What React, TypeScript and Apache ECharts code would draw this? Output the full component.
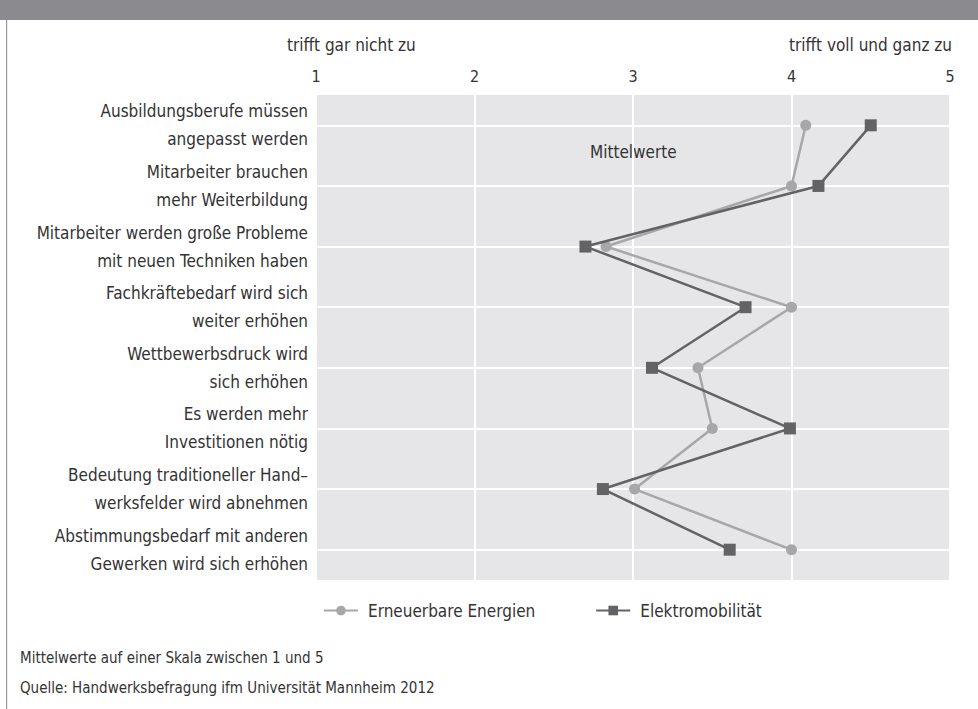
import React, { useEffect, useRef } from "react";
import * as echarts from "echarts";

const categories = [
  "Ausbildungsberufe müssen\nangepasst werden",
  "Mitarbeiter brauchen\nmehr Weiterbildung",
  "Mitarbeiter werden große Probleme\nmit neuen Techniken haben",
  "Fachkräftebedarf wird sich\nweiter erhöhen",
  "Wettbewerbsdruck wird\nsich erhöhen",
  "Es werden mehr\nInvestitionen nötig",
  "Bedeutung traditioneller Hand–\nwerksfelder wird abnehmen",
  "Abstimmungsbedarf mit anderen\nGewerken wird sich erhöhen",
];
const erneuerbare = [4.09, 4.0, 2.83, 4.0, 3.41, 3.5, 3.01, 4.0];
const elektro = [4.5, 4.17, 2.7, 3.71, 3.12, 3.99, 2.81, 3.61];
const seriesNames = ["Erneuerbare Energien", "Elektromobilität"];
const scaleMin = 1;
const scaleMax = 5;
const leftNote = "trifft gar nicht zu";
const rightNote = "trifft voll und ganz zu";
const innerNote = "Mittelwerte";
const footnotes = [
  "Mittelwerte auf einer Skala zwischen 1 und 5",
  "Quelle: Handwerksbefragung ifm Universität Mannheim 2012",
];

const FONT = "'Liberation Sans Narrow', 'DejaVu Sans Condensed', sans-serif";
const TXT = "#333333";

export default function App() {
  const ref = useRef<HTMLDivElement>(null);
  useEffect(() => {
    if (!ref.current) return;
    const chart = echarts.init(ref.current, null, { renderer: "svg" });
    chart.setOption({
      animation: false,
      textStyle: { fontFamily: FONT },
      grid: {
        left: 316,
        right: 28,
        top: 95,
        bottom: 129,
        show: true,
        backgroundColor: "#e6e6e8",
        borderWidth: 0,
      },
      xAxis: {
        type: "value",
        position: "top",
        min: scaleMin,
        max: scaleMax,
        interval: 1,
        axisLine: { show: false },
        axisTick: { show: false },
        axisLabel: { color: TXT, fontSize: 16, margin: 11, fontFamily: FONT },
        splitLine: { show: true, lineStyle: { color: "#ffffff", width: 2 } },
      },
      yAxis: {
        type: "category",
        inverse: true,
        data: categories,
        axisLine: { show: false },
        axisTick: { show: false },
        splitLine: { show: false },
        axisLabel: {
          color: TXT,
          fontSize: 17,
          lineHeight: 28,
          margin: 8,
          align: "right",
          interval: 0,
          fontFamily: FONT,
        },
      },
      legend: {
        left: 318,
        top: 597,
        itemWidth: 34,
        itemHeight: 12,
        itemGap: 60,
        textStyle: { color: TXT, fontSize: 17, fontFamily: FONT, padding: [0, 0, 0, 5] },
        data: seriesNames,
      },
      series: [
        {
          name: seriesNames[0],
          type: "line",
          data: erneuerbare,
          symbol: "circle",
          symbolSize: 11,
          itemStyle: { color: "#a7a7aa" },
          lineStyle: { color: "#a7a7aa", width: 2.5 },
          z: 3,
          markLine: {
            silent: true,
            symbol: "none",
            label: { show: false },
            lineStyle: { color: "#ffffff", width: 2, type: "solid" },
            data: categories.map((c) => ({ yAxis: c })),
            z: 1,
          },
        },
        {
          name: seriesNames[1],
          type: "line",
          data: elektro,
          symbol: "rect",
          symbolSize: 12,
          itemStyle: { color: "#636366" },
          lineStyle: { color: "#636366", width: 2.5 },
          z: 4,
        },
      ],
      graphic: [
        { type: "rect", left: 0, top: 0, shape: { width: 978, height: 20 }, style: { fill: "#8b8b8f" } },
        { type: "rect", left: 6, top: 20, shape: { width: 1.2, height: 689 }, style: { fill: "#9a9a9d" } },
        { type: "text", left: 287, top: 36, style: { text: leftNote, fill: TXT, font: `17px ${FONT}` } },
        { type: "text", right: 26, top: 36, style: { text: rightNote, fill: TXT, font: `17px ${FONT}` } },
        { type: "text", left: 590, top: 143, style: { text: innerNote, fill: TXT, font: `17px ${FONT}` } },
        { type: "text", left: 20, top: 650, style: { text: footnotes[0], fill: TXT, font: `15px ${FONT}` } },
        { type: "text", left: 20, top: 680, style: { text: footnotes[1], fill: TXT, font: `15px ${FONT}` } },
      ],
    });
    return () => chart.dispose();
  }, []);
  return (
    <div
      ref={ref}
      style={{ position: "fixed", left: 0, top: 0, width: 978, height: 709, background: "#ffffff" }}
    />
  );
}
